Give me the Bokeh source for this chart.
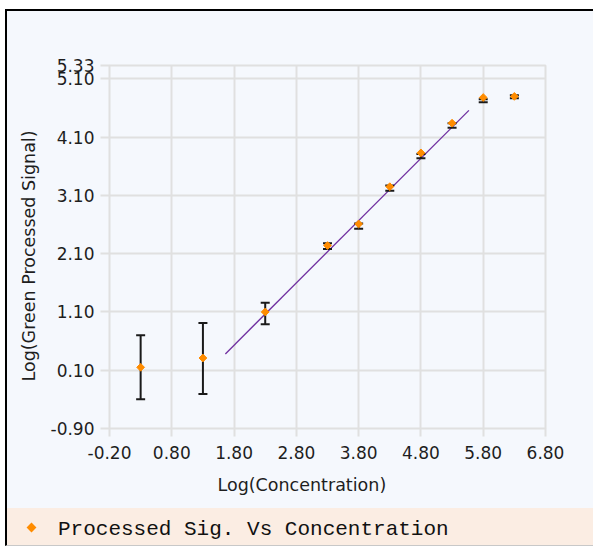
from math import pi
from bokeh.plotting import figure
from bokeh.models import FixedTicker, Range1d, Title, Div
from bokeh.layouts import column
from bokeh.embed import file_html
from bokeh.resources import INLINE

# ---- data ----
log_conc = [0.3, 1.3, 2.3, 3.3, 3.8, 4.3, 4.8, 5.3, 5.8, 6.3]
log_signal = [0.15, 0.31, 1.10, 2.24, 2.61, 3.25, 3.83, 4.34, 4.78, 4.80]
err_upper = [0.70, 0.91, 1.26, 2.28, 2.62, 3.27, 3.81, 4.34, 4.75, 4.82]
err_lower = [-0.40, -0.31, 0.89, 2.18, 2.53, 3.18, 3.74, 4.26, 4.70, 4.77]
fit_x = [1.66, 5.57]
fit_y = [0.38, 4.56]
x_ticks = [-0.2, 0.8, 1.8, 2.8, 3.8, 4.8, 5.8, 6.8]
x_tick_labels = ["-0.20", "0.80", "1.80", "2.80", "3.80", "4.80", "5.80", "6.80"]
y_ticks = [-0.9, 0.1, 1.1, 2.1, 3.1, 4.1, 5.1, 5.33]
y_tick_labels = ["-0.90", "0.10", "1.10", "2.10", "3.10", "4.10", "5.10", "5.33"]
x_title = "Log(Concentration)"
y_title = "Log(Green Processed Signal)"
series_name = "Processed Sig. Vs Concentration"

PANEL = "#f5f8fd"
PEACH = "#fbede3"
GRID = "#e0e0e0"
TXT = "#1e1e1e"
ORANGE = "#ff8c00"
FONT = "DejaVu Sans"

p = figure(frame_width=436, frame_height=363,
           min_border_left=101, min_border_right=49,
           min_border_top=54, min_border_bottom=80,
           x_range=Range1d(x_ticks[0], x_ticks[-1]),
           y_range=Range1d(y_ticks[0], y_ticks[-1]),
           output_backend="svg", toolbar_location=None)
p.background_fill_color = PANEL
p.border_fill_color = PANEL
p.outline_line_color = GRID
p.outline_line_width = 2

for ax, ticks, labels in ((p.xaxis[0], x_ticks, x_tick_labels), (p.yaxis[0], y_ticks, y_tick_labels)):
    ax.ticker = FixedTicker(ticks=ticks)
    ax.major_label_overrides = dict(zip(ticks, labels))
    ax.axis_line_color = None
    ax.major_tick_line_color = GRID
    ax.major_tick_line_width = 2
    ax.major_tick_in = 0
    ax.minor_tick_line_color = None
    ax.major_label_text_font = FONT
    ax.major_label_text_font_size = "17px"
    ax.major_label_text_color = TXT
p.xaxis.major_tick_out = 8
p.xaxis.major_label_standoff = 9
p.yaxis.major_tick_out = 9
p.yaxis.major_label_standoff = 6

p.grid.grid_line_color = GRID
p.grid.grid_line_width = 2
p.xgrid.ticker = FixedTicker(ticks=x_ticks)
p.ygrid.ticker = FixedTicker(ticks=y_ticks)

# fitted line
p.line(fit_x, fit_y, line_color="#7030a0", line_width=1.3)
# error bars
p.segment(x0=log_conc, y0=err_lower, x1=log_conc, y1=err_upper, line_color="#1a1a1a", line_width=2)
p.scatter(log_conc, err_upper, marker="dash", size=9, line_color="#1a1a1a", line_width=2)
p.scatter(log_conc, err_lower, marker="dash", size=9, line_color="#1a1a1a", line_width=2)
# points
p.scatter(log_conc, log_signal, marker="square", angle=pi / 4, size=5.5,
          fill_color=ORANGE, line_color=ORANGE)

# axis titles
p.add_layout(Title(text=x_title, align="left", offset=108, standoff=22,
                   text_font=FONT, text_font_size="17.5px", text_font_style="normal",
                   text_color=TXT), "below")
p.add_layout(Title(text=y_title, align="left", offset=47, standoff=18,
                   text_font=FONT, text_font_size="17.5px", text_font_style="normal",
                   text_color=TXT), "left")

# legend band across the bottom
legend_html = (
    f'<div style="position:relative;width:586px;height:37px;background:{PEACH};">'
    f'<span style="position:absolute;left:21px;top:16px;width:7px;height:7px;'
    f'background:{ORANGE};transform:rotate(45deg);"></span>'
    f'<span style="position:absolute;left:51px;top:10px;white-space:pre;'
    f'font-family:\'Liberation Mono\',monospace;font-size:21px;line-height:24px;'
    f'color:#111111;">{series_name}</span></div>'
)
legend_band = Div(text=legend_html, width=586, height=37, margin=0)

layout = column(p, legend_band, spacing=0,
                styles={"margin-top": "9px", "margin-left": "5px",
                        "border-top": "2px solid #000000",
                        "border-left": "2px solid #000000",
                        "border-bottom": "1px solid #c8c8c8",
                        "background-color": PANEL})

open("out.html", "w").write(file_html(layout, INLINE))
